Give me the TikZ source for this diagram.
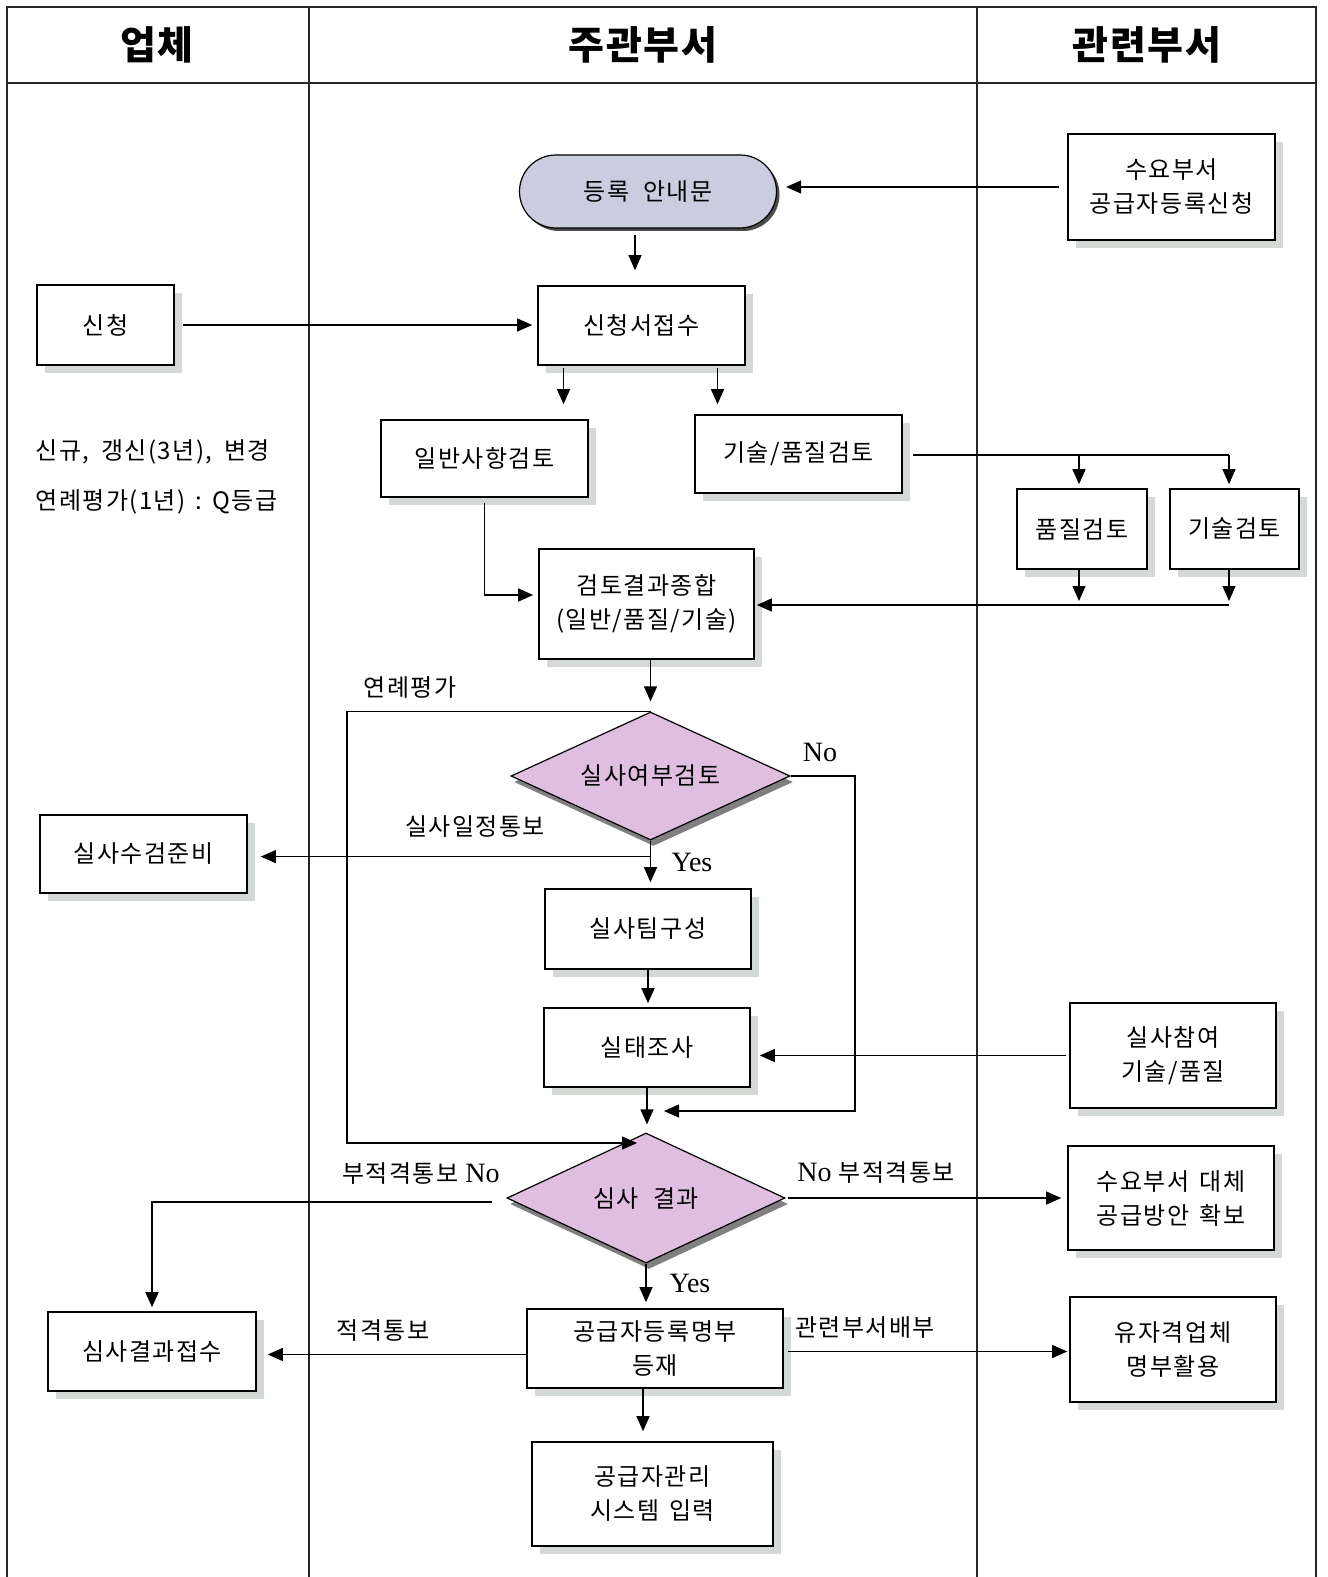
\documentclass[tikz,border=0pt]{standalone}
\usepackage{fontspec}
\setmainfont{Liberation Serif}
\newfontfamily\kr{Noto Sans CJK KR}[LetterSpace=6]
\newfontfamily\krhead{Noto Sans CJK KR}[LetterSpace=4]
\usetikzlibrary{arrows.meta,shapes.geometric,shapes.misc,shadows}
\definecolor{shdlt}{RGB}{213,217,213}
\definecolor{shddk}{RGB}{128,128,128}
\definecolor{termblue}{RGB}{204,204,224}
\definecolor{decpink}{RGB}{224,190,224}
\tikzset{
  flow/.style = {align=center, inner sep=0pt, text centered,
    font=\kr\fontsize{12}{17}\selectfont},
  flow_box/.style = {flow, rectangle, draw=black, fill=white, line width=0.8pt,
    drop shadow={shadow xshift=4pt, shadow yshift=-4pt, fill=shdlt, opacity=1}},% process box
  flow_dec/.style = {flow, diamond, aspect=2.17, draw=black, fill=decpink, line width=0.6pt,
    drop shadow={shadow xshift=1.5pt, shadow yshift=-3pt, fill=shddk, opacity=1}},% decision
  flow_term/.style = {flow, rounded rectangle, draw=black, fill=termblue, line width=0.6pt,
    drop shadow={shadow xshift=1.5pt, shadow yshift=-1.5pt, fill=black!70, opacity=1}},% start
  lbl_kr/.style = {inner sep=0pt, font=\kr\fontsize{12}{15}\selectfont},
  lbl_en/.style = {inner sep=0pt, font=\fontsize{14}{16}\selectfont},
  hdr/.style = {inner sep=0pt, font=\krhead\bfseries\fontsize{19.5}{24}\selectfont},
  lane/.style = {line width=0.7pt, black!85},
}

\begin{document}
\begin{tikzpicture}[x=0.5pt, y=-0.5pt, line width=0.6pt,
  >={Triangle[length=7.5pt,width=6.5pt]}]
\useasboundingbox (0,0) rectangle (1327,1577);

% swim lanes
\draw[lane] (7,1577) -- (7,7) -- (1316,7) -- (1316,1577);
\draw[lane] (7,83) -- (1316,83);
\draw[lane] (309,7) -- (309,1577);
\draw[lane] (977,7) -- (977,1577);
\node[hdr] (h_firm) at (157,45) {업체};
\node[hdr] (h_main) at (643,45) {주관부서};
\node[hdr] (h_rel) at (1147,45) {관련부서};

% nodes
\node[flow_term, minimum width=128.5pt, minimum height=36.5pt] (guide) at (648,191.5) {등록\hspace{7pt}안내문};
\node[flow_box, minimum width=103.5pt, minimum height=53pt] (req) at (1171.5,187) {수요부서\\공급자등록신청};
\node[flow_box, minimum width=68.5pt, minimum height=40pt] (apply) at (105.5,325) {신청};
\node[flow_box, minimum width=103.5pt, minimum height=39.5pt] (recv) at (641.5,325.5) {신청서접수};
\node[flow_box, minimum width=103.5pt, minimum height=38.5pt] (gen) at (484.5,458.5) {일반사항검토};
\node[flow_box, minimum width=103.5pt, minimum height=39pt] (tq) at (798.5,454) {기술/품질검토};
\node[flow_box, minimum width=65pt, minimum height=40pt] (qual) at (1082,529) {품질검토};
\node[flow_box, minimum width=64.5pt, minimum height=40pt] (tech) at (1234.5,529) {기술검토};
\node[flow_box, minimum width=107.5pt, minimum height=55pt] (sum) at (646.5,604) {검토결과종합\\(일반/품질/기술)};
\node[flow_dec, minimum width=139.5pt, minimum height=64pt] (d1) at (650.5,776) {실사여부검토};
\node[flow_box, minimum width=103.5pt, minimum height=39pt] (prep) at (143.5,854) {실사수검준비};
\node[flow_box, minimum width=103pt, minimum height=40pt] (team) at (648,929) {실사팀구성};
\node[flow_box, minimum width=103pt, minimum height=39.5pt] (survey) at (647,1047.5) {실태조사};
\node[flow_box, minimum width=103pt, minimum height=52.5pt] (part) at (1173,1055.5) {실사참여\\기술/품질};
\node[flow_dec, minimum width=139pt, minimum height=65pt] (d2) at (646,1198) {심사\hspace{7pt}결과};
\node[flow_box, minimum width=103pt, minimum height=52pt] (alt) at (1171,1198) {수요부서\hspace{5pt}대체\\공급방안\hspace{5pt}확보};
\node[flow_box, minimum width=104pt, minimum height=39.5pt] (res) at (152,1351.5) {심사결과접수};
\node[flow_box, minimum width=128pt, minimum height=39.5pt] (reg) at (655,1348.5) {공급자등록명부\\등재};
\node[flow_box, minimum width=103pt, minimum height=52.5pt] (list) at (1173,1349.5) {유자격업체\\명부활용};
\node[flow_box, minimum width=120.5pt, minimum height=52pt] (sys) at (652.5,1494) {공급자관리\\시스템\hspace{5pt}입력};

% free labels
\node[lbl_kr, anchor=west] (note1) at (35,452) {신규,\hspace{6pt}갱신(3년),\hspace{6pt}변경};
\node[lbl_kr, anchor=west] (note2) at (35,502) {연례평가(1년)\hspace{5pt}:\hspace{5pt}Q등급};
\node[lbl_kr] (l_annual) at (410,688) {연례평가};
\node[lbl_en] (l_no1) at (820,752) {No};
\node[lbl_kr] (l_notice) at (475,827) {실사일정통보};
\node[lbl_en] (l_yes1) at (692,862) {Yes};
\node[lbl_en] (l_fail1) at (421,1173) {{\kr\fontsize{12}{15}\selectfont 부적격통보}\ No};
\node[lbl_en] (l_fail2) at (876,1172) {No\ {\kr\fontsize{12}{15}\selectfont 부적격통보}};
\node[lbl_en] (l_yes2) at (690,1283) {Yes};
\node[lbl_kr] (l_pass) at (383,1330) {적격통보};
\node[lbl_kr] (l_dist) at (865,1328) {관련부서배부};

% connectors
\coordinate (qual_in) at ([xshift=-1.5pt]qual.north);
\coordinate (tech_in) at ([xshift=-2.75pt]tech.north);
\coordinate (qual_out) at ([xshift=-1.5pt]qual.south);
\coordinate (tech_out) at ([xshift=-2.75pt]tech.south);
\coordinate (loop_turn) at (347,1143);
\coordinate (no_turn) at (855,1111);

\draw[->, shorten <=4pt, shorten >=4.5pt] (req.west) -- (req.west -| guide.east);
\draw[->, shorten <=3pt, shorten >=7.5pt] ([xshift=-6.5pt]guide.south) -- ([xshift=-6.5pt]guide.south |- recv.north);
\draw[->, shorten <=4pt, shorten >=2.5pt] (apply.east) -- (apply.east -| recv.west);
\draw[->, shorten <=1pt, shorten >=7.5pt] ([xshift=-39pt]recv.south) -- ([xshift=-39pt]recv.south |- gen.north);
\draw[->, shorten <=1pt, shorten >=5pt] ([xshift=38pt]recv.south) -- ([xshift=38pt]recv.south |- tq.north);
\draw[shorten <=5pt] ([yshift=-0.5pt]tq.east) -- ([yshift=-0.5pt]tq.east -| tech_in);
\draw[->, shorten >=2pt] ([yshift=-0.5pt]tq.east -| qual_in) -- (qual_in);
\draw[->, shorten >=2pt] ([yshift=-0.5pt]tq.east -| tech_in) -- (tech_in);
\draw[->, shorten >=1.5pt] (qual_out) -- (qual_out |- sum.east);
\draw[->, shorten >=1.5pt] (tech_out) -- (tech_out |- sum.east);
\draw[->, shorten >=1pt] ([yshift=-0.5pt]tech_out |- sum.east) -- ([yshift=-0.5pt]sum.east);
\draw[->, shorten <=2.5pt, shorten >=2.5pt] (gen.south) |- ([yshift=4.5pt]sum.west);
\draw[->, shorten >=5pt] (sum.south -| d1.north) -- (d1.north);
\draw[->, shorten >=4.5pt] (d1.north) -| (loop_turn) -- (loop_turn -| d2.north);
\draw[->, shorten >=6.5pt] ([yshift=-8pt]d1.south) -- ([yshift=-8pt]d1.south -| prep.east);
\draw[->, shorten >=3pt] (d1.south) -- (d1.south |- team.north);
\draw[->, shorten >=9pt] (d1.east) -| (no_turn) -- (no_turn -| d2.north);
\draw[->, shorten >=2pt] (team.south) -- (team.south |- survey.north);
\draw[->, shorten <=1.5pt, shorten >=4.5pt] (part.west) -- (part.west -| survey.east);
\draw[->, shorten >=4pt] (survey.south) -- (survey.south |- d2.north);
\draw[->, shorten <=7pt, shorten >=2pt] ([yshift=-2pt]d2.west) -| (res.north);
\draw[->, shorten <=1pt, shorten >=3pt] (d2.east) -- (d2.east -| alt.west);
\draw[->, shorten >=3pt] (d2.south) -- (d2.south |- reg.north);
\draw[->, shorten >=5.5pt] ([yshift=-3pt]reg.west) -- ([yshift=-3pt]reg.west -| res.east);
\draw[->, shorten <=2pt, shorten >=1pt] ([yshift=-1.5pt]reg.east) -- ([yshift=-1.5pt]reg.east -| list.west);
\draw[->, shorten >=5pt] ([xshift=-6pt]reg.south) -- ([xshift=-6pt]reg.south |- sys.north);
\end{tikzpicture}
\end{document}
